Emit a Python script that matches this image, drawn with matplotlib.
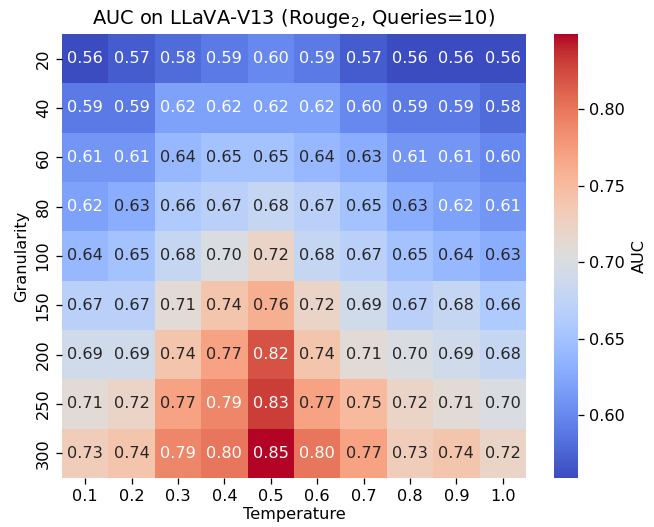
import numpy as np
import matplotlib
matplotlib.use("Agg")
import matplotlib.pyplot as plt
import seaborn as sns

temperatures = ["0.1", "0.2", "0.3", "0.4", "0.5", "0.6", "0.7", "0.8", "0.9", "1.0"]
granularities = ["20", "40", "60", "80", "100", "150", "200", "250", "300"]

auc = np.array([
    [0.56, 0.57, 0.58, 0.59, 0.60, 0.59, 0.57, 0.56, 0.56, 0.56],
    [0.59, 0.59, 0.62, 0.62, 0.62, 0.62, 0.60, 0.59, 0.59, 0.58],
    [0.61, 0.61, 0.64, 0.65, 0.65, 0.64, 0.63, 0.61, 0.61, 0.60],
    [0.62, 0.63, 0.66, 0.67, 0.68, 0.67, 0.65, 0.63, 0.62, 0.61],
    [0.64, 0.65, 0.68, 0.70, 0.72, 0.68, 0.67, 0.65, 0.64, 0.63],
    [0.67, 0.67, 0.71, 0.74, 0.76, 0.72, 0.69, 0.67, 0.68, 0.66],
    [0.69, 0.69, 0.74, 0.77, 0.82, 0.74, 0.71, 0.70, 0.69, 0.68],
    [0.71, 0.72, 0.77, 0.79, 0.83, 0.77, 0.75, 0.72, 0.71, 0.70],
    [0.73, 0.74, 0.79, 0.80, 0.85, 0.80, 0.77, 0.73, 0.74, 0.72],
])

# drawn at a higher dpi so fonts come out a bit larger, like the reference
DPI = 116
fig = plt.figure(figsize=(654 / DPI, 527 / DPI), dpi=DPI)
ax = fig.add_axes([62 / 654, 1 - 478 / 527, 464 / 654, 444 / 527])
cax = fig.add_axes([554 / 654, 1 - 478 / 527, 24 / 654, 444 / 527])

sns.heatmap(auc, annot=True, fmt=".2f", cmap="coolwarm", vmin=0.559, vmax=0.849,
            xticklabels=temperatures, yticklabels=granularities,
            cbar_ax=cax, cbar_kws={"label": "AUC"}, ax=ax)
ax.set_title("AUC on LLaVA-V13 (Rouge$_2$, Queries=10)")
ax.set_xlabel("Temperature", labelpad=2)
ax.set_ylabel("Granularity")
fig.savefig("out.png", dpi=DPI)
